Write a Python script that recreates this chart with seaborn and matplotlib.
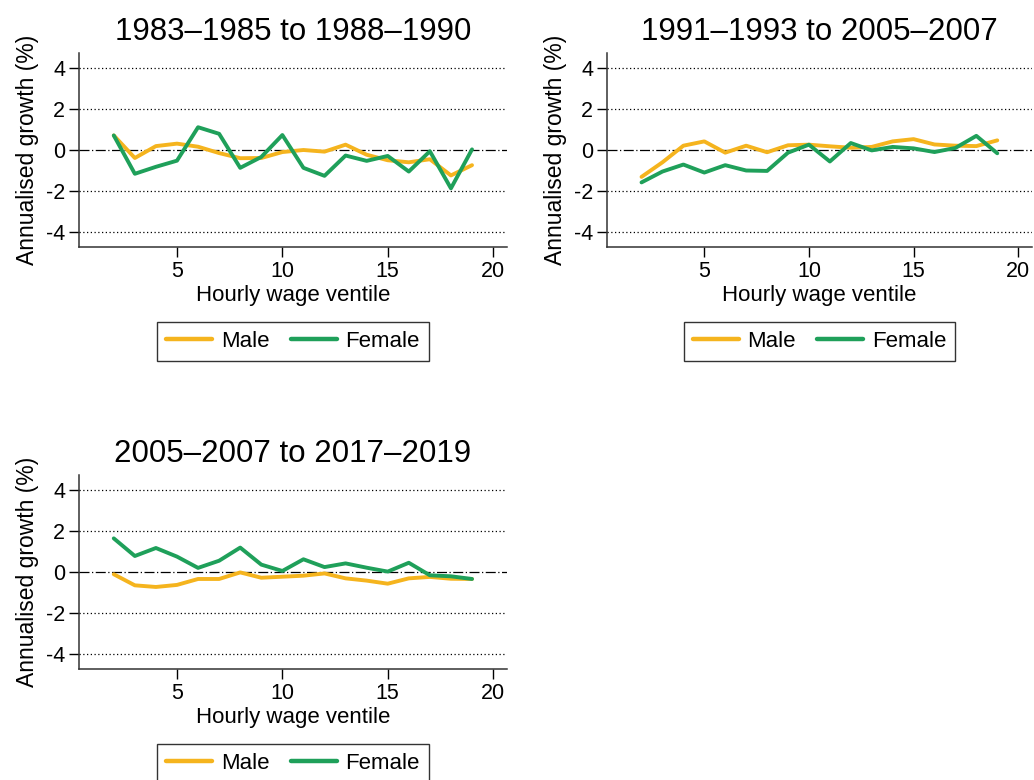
import numpy as np
import pandas as pd
import matplotlib
matplotlib.use("Agg")
import matplotlib.pyplot as plt
import seaborn as sns

ventiles = list(range(2, 20))

titles = ["1983\u20131985 to 1988\u20131990",
          "1991\u20131993 to 2005\u20132007",
          "2005\u20132007 to 2017\u20132019"]

male_p1 = [0.71, -0.39, 0.19, 0.31, 0.16, -0.15, -0.40, -0.39, -0.10, 0.00,
           -0.08, 0.26, -0.23, -0.50, -0.60, -0.45, -1.24, -0.74]
female_p1 = [0.71, -1.16, -0.82, -0.52, 1.11, 0.79, -0.87, -0.34, 0.73, -0.87,
             -1.26, -0.27, -0.53, -0.29, -1.05, -0.06, -1.87, 0.03]

male_p2 = [-1.31, -0.60, 0.21, 0.42, -0.13, 0.21, -0.11, 0.23, 0.26, 0.18,
           0.11, 0.15, 0.42, 0.53, 0.27, 0.21, 0.19, 0.47]
female_p2 = [-1.58, -1.05, -0.71, -1.10, -0.74, -1.00, -1.02, -0.13, 0.26, -0.56,
             0.34, -0.02, 0.15, 0.08, -0.10, 0.10, 0.69, -0.16]

male_p3 = [-0.11, -0.65, -0.73, -0.63, -0.34, -0.34, -0.02, -0.28, -0.23, -0.18,
           -0.07, -0.31, -0.42, -0.57, -0.31, -0.24, -0.33, -0.34]
female_p3 = [1.64, 0.78, 1.17, 0.75, 0.20, 0.55, 1.19, 0.36, 0.05, 0.62,
             0.24, 0.42, 0.21, 0.02, 0.45, -0.16, -0.21, -0.34]

series_labels = ["Male", "Female"]
colors = {"Male": "#F5B41E", "Female": "#1FA05A"}

yticks = [-4, -2, 0, 2, 4]
xticks = [5, 10, 15, 20]

sns.set_style("white")
plt.rcParams["font.family"] = ["Liberation Sans", "DejaVu Sans"]
plt.rcParams["axes.unicode_minus"] = False
plt.rcParams["text.color"] = "black"
plt.rcParams["axes.labelcolor"] = "black"
plt.rcParams["xtick.color"] = "black"
plt.rcParams["ytick.color"] = "black"

fig = plt.figure(figsize=(10.34, 7.80), dpi=100)

W, H = 1034.0, 780.0
positions = [
    (79, 53, 507, 247),
    (607, 53, 1032, 247),
    (79, 475, 507, 669),
]
panels = [(male_p1, female_p1), (male_p2, female_p2), (male_p3, female_p3)]

for (l, t, r, b), title, (m, f) in zip(positions, titles, panels):
    ax = fig.add_axes([l / W, 1 - b / H, (r - l) / W, (b - t) / H])
    df = pd.DataFrame({
        "ventile": ventiles * 2,
        "growth": list(m) + list(f),
        "sex": ["Male"] * len(m) + ["Female"] * len(f),
    })
    for yv in [-4, -2, 2, 4]:
        ax.axhline(yv, color="black", lw=0.9, ls=(0, (1, 2)), zorder=0)
    ax.axhline(0, color="black", lw=0.9, ls=(0, (8, 2, 1, 2)), zorder=0)
    sns.lineplot(data=df, x="ventile", y="growth", hue="sex",
                 hue_order=series_labels, palette=colors, lw=2.8, ax=ax)
    ax.set_xlim(0.35, 20.66)
    ax.set_ylim(-4.73, 4.73)
    ax.set_xticks(xticks)
    ax.set_yticks(yticks)
    ax.set_yticklabels([str(v) for v in yticks])
    ax.tick_params(axis="both", labelsize=15.5, direction="out", length=7.5,
                   width=1, colors="black", left=True, bottom=True)
    ax.tick_params(axis="x", pad=2.5)
    ax.tick_params(axis="y", pad=2.5)
    for s in ["top", "right"]:
        ax.spines[s].set_visible(False)
    for s in ["left", "bottom"]:
        ax.spines[s].set_color("#333333")
        ax.spines[s].set_linewidth(1.1)
    ax.set_xlabel("Hourly wage ventile", fontsize=16, labelpad=2)
    ax.set_ylabel("Annualised growth (%)", fontsize=16.5, labelpad=5)
    ax.set_title(title, fontsize=22.5, pad=9)
    leg = ax.legend(loc="upper center", bbox_to_anchor=(0.5, -0.387), ncol=2,
                    frameon=True, fancybox=False, fontsize=16,
                    handlelength=2.07, handletextpad=0.4, columnspacing=0.95,
                    borderpad=0.4, borderaxespad=0)
    leg.get_frame().set_edgecolor("black")
    leg.get_frame().set_linewidth(1.0)
    for lh in leg.get_lines():
        lh.set_linewidth(3.2)

fig.savefig("out.png", dpi=100)
